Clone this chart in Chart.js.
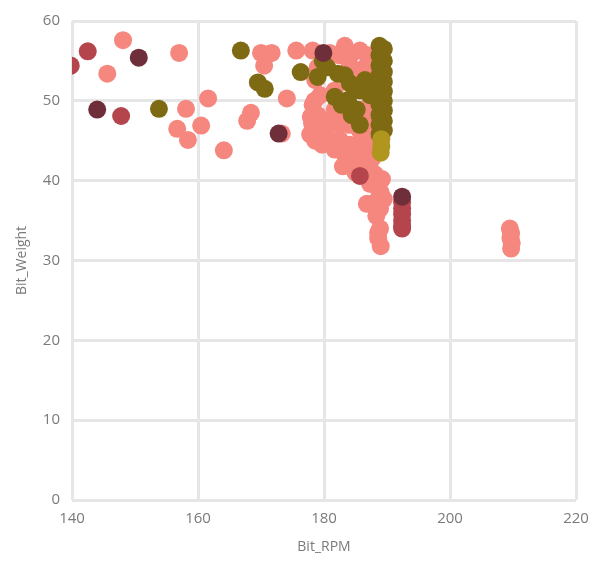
<!DOCTYPE html>
<html>
<head>
<meta charset="utf-8">
<style>
html,body{margin:0;padding:0;background:#fff;}
#wrap{width:602px;height:563px;position:relative;}
</style>
<script src="https://cdn.jsdelivr.net/npm/chart.js@4/dist/chart.umd.min.js"></script>
</head>
<body>
<div id="wrap"><canvas id="c" width="602" height="563"></canvas></div>
<script>
// Axis ticks
const xTicks = [140, 160, 180, 200, 220];
const yTicks = [0, 10, 20, 30, 40, 50, 60];

// Series: [Bit_RPM, Bit_Weight]
const salmonPts = [
  [145.6,53.4],[148.1,57.6],[157.0,56.0],[158.1,49.0],[156.7,46.5],[158.4,45.1],[160.5,46.9],
  [161.6,50.3],[164.1,43.8],[167.8,47.5],[168.4,48.5],[170.0,56.0],[171.0,55.8],[171.7,56.0],
  [170.5,54.4],[173.3,45.9],[175.6,56.3],[174.1,50.3],
  [178.2,56.3],[179.7,55.7],[180.9,56.0],[182.5,55.7],[184.4,55.9],[185.7,56.3],[187.0,55.7],
  [187.6,54.7],[186.5,54.2],[179.0,54.2],[178.6,52.6],[179.4,50.7],[178.2,49.5],[179.0,48.2],
  [178.1,47.2],[178.7,46.0],[180.2,46.4],[177.8,45.8],[179.7,44.5],[181.0,45.1],[181.7,43.9],
  [182.5,45.1],[183.3,43.3],[184.1,44.5],[184.9,42.7],[185.7,43.9],[186.0,45.8],[187.0,47.0],
  [187.3,44.5],[186.5,42.0],[187.6,42.7],[188.1,40.8],[187.3,39.6],[188.6,39.0],[189.2,40.2],
  [186.8,37.1],[188.1,37.3],[188.9,36.5],[188.3,35.6],[188.9,34.0],[188.6,32.8],[189.0,31.8],
  [189.5,37.7],[183.3,48.2],[181.7,48.9],[182.5,47.0],[180.9,47.6],[181.7,51.3],[184.1,54.4],
  [183.3,56.9],[184.9,53.8],[178.5,50.0],[177.9,48.0],[178.6,45.0],[183.0,41.8],[185.0,41.0],
  [189.0,38.5],[188.6,33.5],[185.5,46.5],[184.0,47.0],[186.5,49.0],
  [209.5,34.0],[209.7,33.4],[209.6,32.8],[209.8,32.2],[209.7,31.5]
];
const olivePts = [
  [153.8,49.0],[166.8,56.3],[169.5,52.3],[170.6,51.5],[176.3,53.6],
  [179.8,55.0],[180.5,54.2],[179.0,53.0],[182.2,53.4],[183.3,53.2],[184.1,52.2],[181.7,50.5],
  [182.8,49.5],[183.8,50.1],[184.4,48.2],[185.2,48.9],[185.7,51.3],[186.5,52.6],[187.3,50.7],
  [185.7,47.0],
  [188.8,56.9],[189.5,56.5],[188.8,55.7],[189.5,55.0],[188.8,54.4],[189.5,53.6],[188.8,53.2],
  [189.5,52.4],[188.8,52.0],[189.5,51.2],[188.8,50.7],[189.5,50.0],[188.8,49.5],[189.5,48.8],
  [188.8,48.2],[189.5,47.5],[188.8,47.0],[189.5,46.3],[188.8,45.8]
];
const mustardPts = [
  [189.1,45.2],[189.1,44.3],[189.0,43.5]
];
const maroonPts = [
  [144.0,48.9],[150.6,55.4],[172.8,45.9],[179.9,56.0],[192.4,38.0]
];
const darkRedPts = [
  [139.8,54.4],[142.5,56.2],[147.8,48.1],[185.7,40.6],
  [192.4,37.3],[192.4,36.5],[192.4,35.8],[192.4,35.0],[192.4,34.3],[192.4,34.0]
];

function toXY(arr){ return arr.map(p => ({x:p[0], y:p[1]})); }

const ds = (label, pts, color, order) => ({
  label, data: toXY(pts), backgroundColor: color, borderWidth: 0,
  pointRadius: 9, pointHoverRadius: 9, order, clip: 0
});

const txt = '#7A7A7A';
const fam = "'Open Sans', 'Noto Sans', sans-serif";

new Chart(document.getElementById('c'), {
  type: 'scatter',
  data: {
    datasets: [
      ds('maroon', maroonPts, '#6E2E3A', 0),
      ds('darkred', darkRedPts, '#B5454D', 1),
      ds('mustard', mustardPts, '#B0951E', 2),
      ds('olive', olivePts, '#7F6A14', 3),
      ds('salmon', salmonPts, '#F5877F', 4)
    ]
  },
  options: {
    responsive: false,
    animation: false,
    layout: { padding: { top: 15, right: 26, left: 10, bottom: 8 } },
    plugins: { legend: { display: false }, tooltip: { enabled: false } },
    scales: {
      x: {
        type: 'linear', min: 140, max: 220,
        afterBuildTicks: s => { s.ticks = xTicks.map(v => ({value: v})); },
        afterFit: s => { s.height = 55; },
        grid: { color: '#E6E6E6', lineWidth: 3, drawTicks: false },
        border: { display: false },
        ticks: { color: txt, font: { family: fam, size: 15 }, padding: 10 },
        title: { display: true, text: 'Bit_RPM', color: txt, font: { family: fam, size: 14 }, padding: { top: 2, bottom: 0 } }
      },
      y: {
        type: 'linear', min: 0, max: 60,
        afterBuildTicks: s => { s.ticks = yTicks.map(v => ({value: v})); },
        afterFit: s => { s.width = 62; },
        grid: { color: '#E6E6E6', lineWidth: 3, drawTicks: false },
        border: { display: false },
        ticks: { color: txt, font: { family: fam, size: 15 }, padding: 12 },
        title: { display: true, text: 'Bit_Weight', color: txt, font: { family: fam, size: 14 }, padding: { bottom: 0 } }
      }
    }
  }
});
</script>
</body>
</html>
